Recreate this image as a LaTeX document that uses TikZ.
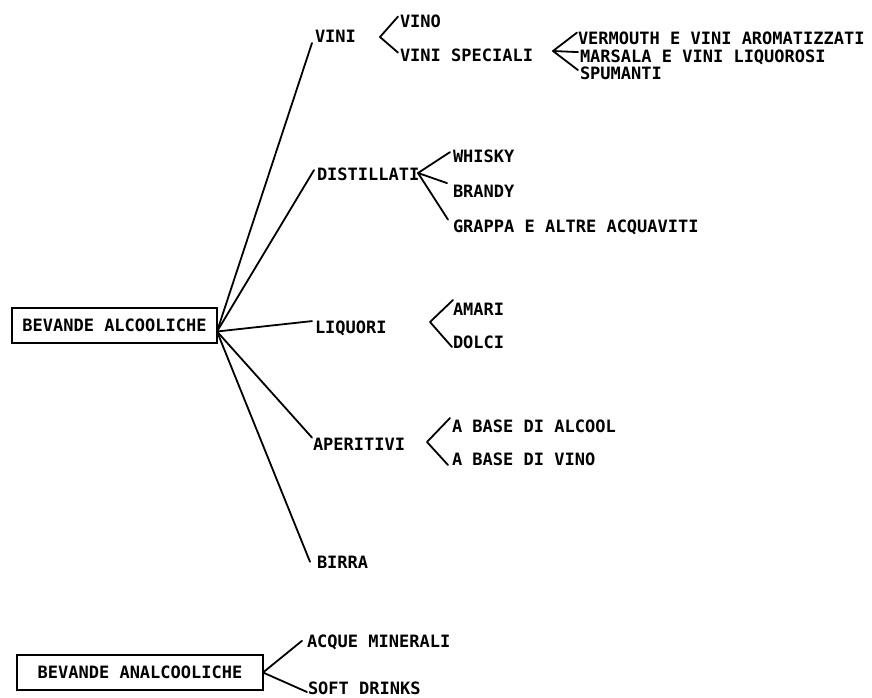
\documentclass[tikz,border=0pt]{standalone}
\usepackage{fontspec}
\newfontfamily\labfont{DejaVu Sans Mono}
\begin{document}
\begin{tikzpicture}[x=1pt,y=-1pt,
  lab/.style={anchor=base west,inner sep=0pt,outer sep=0pt,
    font=\labfont\bfseries\fontsize{17}{20}\selectfont,text height=12.4pt,text depth=0pt},
  box/.style={draw,line width=1.4pt,inner sep=0pt,outer sep=0pt,
    font=\labfont\bfseries\fontsize{17}{20}\selectfont,text height=12.4pt,text depth=0pt,
    minimum height=35pt},
  conn/.style={line width=1.8pt,line cap=round,line join=round}]
\useasboundingbox (0,0) rectangle (872,698);

% boxes
\node[box,minimum width=205pt] (alc) at (114.5,325.5) {BEVANDE ALCOOLICHE};
\node[box,minimum width=246pt] (analc) at (140,672.5) {BEVANDE ANALCOOLICHE};

% first level
\node[lab] (vini) at (315,43) {VINI};
\node[lab] (distillati) at (317,180) {DISTILLATI};
\node[lab] (liquori) at (315,333) {LIQUORI};
\node[lab] (aperitivi) at (313,450) {APERITIVI};
\node[lab] (birra) at (317,568) {BIRRA};

% second level
\node[lab] (vino) at (400,28) {VINO};
\node[lab] (vinisp) at (400,62) {VINI SPECIALI};
\node[lab] (vermouth) at (578,45) {VERMOUTH E VINI AROMATIZZATI};
\node[lab] (marsala) at (580,62.5) {MARSALA E VINI LIQUOROSI};
\node[lab] (spumanti) at (580,80) {SPUMANTI};
\node[lab] (whisky) at (453,162) {WHISKY};
\node[lab] (brandy) at (453,197) {BRANDY};
\node[lab] (grappa) at (453,232) {GRAPPA E ALTRE ACQUAVITI};
\node[lab] (amari) at (453,315) {AMARI};
\node[lab] (dolci) at (453,348) {DOLCI};
\node[lab] (alcool) at (452,432) {A BASE DI ALCOOL};
\node[lab] (basevino) at (452,465) {A BASE DI VINO};
\node[lab] (acque) at (307,647) {ACQUE MINERALI};
\node[lab] (soft) at (308,694) {SOFT DRINKS};

% junction points
\coordinate (hub) at ([yshift=-6pt]alc.east);
\coordinate (tvini) at (380,37);
\coordinate (tsp) at (553,51);
\coordinate (tdis) at (418,173);
\coordinate (tliq) at (430,322);
\coordinate (tape) at (427,442);

% connectors from main box
\draw[conn] (hub) -- ([xshift=-3pt]vini.base west);
\draw[conn] (hub) -- ([xshift=-3pt,yshift=-2.5pt]distillati.north west);
\draw[conn] (hub) -- ([xshift=-3pt,yshift=-0.5pt]liquori.north west);
\draw[conn] (hub) -- ([xshift=-1pt]aperitivi.north west);
\draw[conn] (hub) -- ([xshift=-7pt]birra.west);

% brackets
\draw[conn] ([xshift=-2pt,yshift=-1pt]vino.north west) -- (tvini) -- ([xshift=-2pt,yshift=-3pt]vinisp.north west);
\draw[conn] ([xshift=-1pt]vermouth.north west) -- (tsp) -- ([xshift=-2pt,yshift=-2pt]marsala.north west);
\draw[conn] (tsp) -- ([xshift=-2pt,yshift=-2.5pt]spumanti.north west);
\draw[conn] ([xshift=-3pt,yshift=-2.5pt]whisky.north west) -- (tdis) -- ([xshift=-6pt,yshift=1.5pt]brandy.north west);
\draw[conn] (tdis) -- ([xshift=-5pt]grappa.north west);
\draw[conn] ([yshift=2.6pt]amari.north west) -- (tliq) -- ([xshift=-1pt,yshift=1pt]dolci.base west);
\draw[conn] ([xshift=-2pt,yshift=1.6pt]alcool.north west) -- (tape) -- ([xshift=-4pt]basevino.base west);
\draw[conn] ([xshift=-5pt]acque.west) -- (analc.east) -- ([xshift=-1pt,yshift=2pt]soft.base west);
\end{tikzpicture}
\end{document}
